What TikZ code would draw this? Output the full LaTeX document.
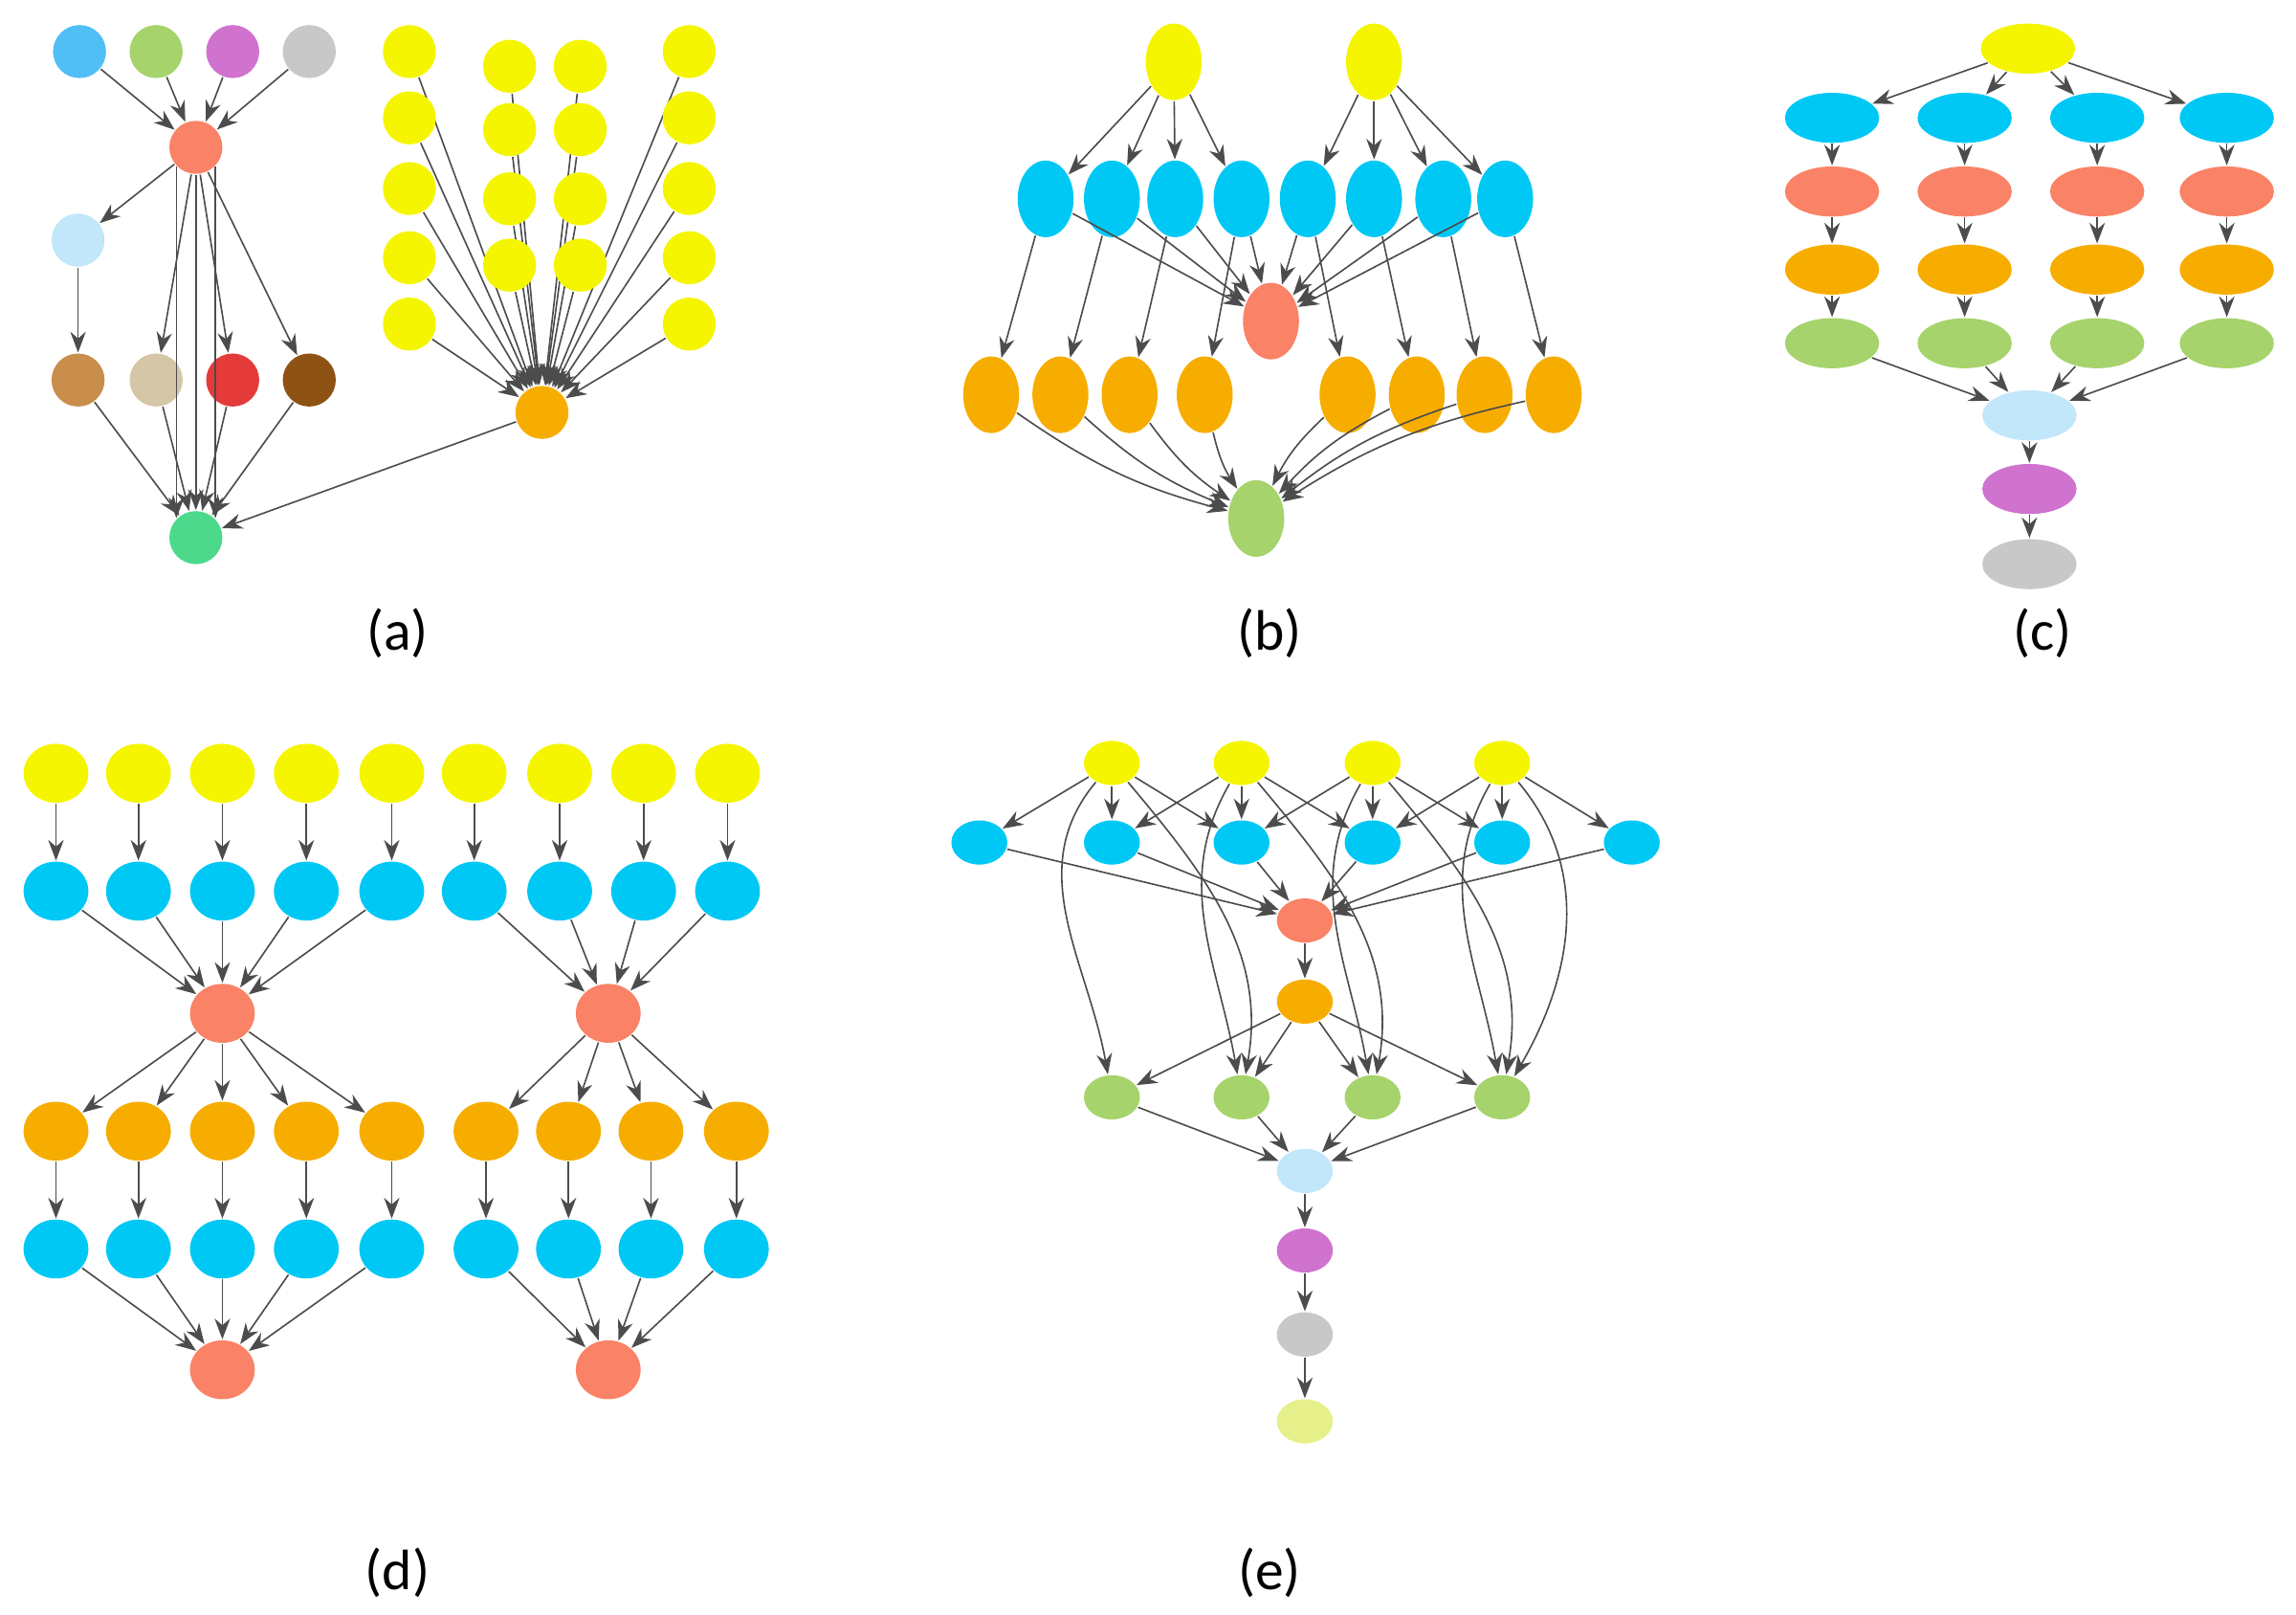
\documentclass[tikz,border=0pt]{standalone}
\usepackage{fontspec}
\setmainfont{Carlito}
\usetikzlibrary{arrows.meta}
\definecolor{cy}{HTML}{F5F500}
\definecolor{cb}{HTML}{00C8F5}
\definecolor{cs}{HTML}{FA8266}
\definecolor{co}{HTML}{F7AD00}
\definecolor{cg}{HTML}{A6D36B}
\definecolor{cl}{HTML}{C2E6FA}
\definecolor{cp}{HTML}{CF73CF}
\definecolor{cgr}{HTML}{C8C8C8}
\definecolor{cb2}{HTML}{4FBFF5}
\definecolor{ctan}{HTML}{C98E4B}
\definecolor{cbe}{HTML}{D6C6A8}
\definecolor{cred}{HTML}{E53A3A}
\definecolor{cbr}{HTML}{8E5214}
\definecolor{cmint}{HTML}{4CD98C}
\definecolor{cly}{HTML}{E6F08A}
\tikzset{
 nd/.style={ellipse,inner sep=0pt,minimum width=#1},
 e/.style={draw=black!70,line width=0.3pt,-{Stealth[length=4pt,width=3pt]}},
 lab/.style={font=\fontsize{11}{13}\selectfont}
}
\usetikzlibrary{shapes.geometric}
\begin{document}
\begin{tikzpicture}[x=0.01cm,y=-0.01cm]
\useasboundingbox (0,0) rectangle (1559,1096);
\tikzset{a/.style={circle,fill=#1,minimum size=36*0.01cm,inner sep=0pt}}
% ---------- (a)
\node[a=cb2] (a1) at (54,35) {};
\node[a=cg] (a2) at (106,35) {};
\node[a=cp] (a3) at (158,35) {};
\node[a=cgr] (a4) at (210,35) {};
\node[a=cs] (as) at (133,100) {};
\node[a=cl] (al) at (53,163) {};
\node[a=ctan] (b1) at (53,258) {};
\node[a=cbe] (b2) at (106,258) {};
\node[a=cred] (b3) at (158,258) {};
\node[a=cbr] (b4) at (210,258) {};
\node[a=cmint] (ag) at (133,365) {};
\node[a=co] (ao) at (368,280) {};
\foreach \i in {1,...,4} \draw[e] (a\i) -- (as);
\draw[e] (as) -- (al); \draw[e] (al) -- (b1);
\foreach \i in {2,3,4} \draw[e] (as) -- (b\i);
\foreach \i in {1,...,4} \draw[e] (b\i) -- (ag);
\draw[e] (as) -- (ag); \draw[e] (as.south west) -- (ag.north west);\draw[e] (as.south east) -- (ag.north east);
\draw[e] (ao) -- (ag);
\foreach \x/\ys/\n in {278/{35,80,128,175,220}/p,468/{35,80,128,175,220}/q,346/{45,88,135,180}/r,394/{45,88,135,180}/s}{
 \foreach \y [count=\k] in \ys {\node[a=cy] (y\n\k) at (\x,\y) {}; \draw[e] (y\n\k) -- (ao);}}
% ---------- (b)
\tikzset{bv/.style={ellipse,fill=#1,minimum width=38*0.01cm,minimum height=52*0.01cm,inner sep=0pt}}
\node[bv=cy] (by1) at (797,42) {};
\node[bv=cy] (by2) at (933,42) {};
\foreach \x [count=\k] in {710,755,798,843,888,933,980,1022} \node[bv=cb] (bb\k) at (\x,135) {};
\node[bv=cs] (bs) at (863,218) {};
\foreach \x [count=\k] in {673,720,767,818,915,962,1008,1055} \node[bv=co] (bo\k) at (\x,268) {};
\node[bv=cg] (bg) at (853,352) {};
\foreach \k in {1,...,4} \draw[e] (by1) -- (bb\k);
\foreach \k in {5,...,8} \draw[e] (by2) -- (bb\k);
\foreach \k in {1,...,8} {\draw[e] (bb\k) -- (bs); \draw[e] (bb\k) -- (bo\k); \draw[e] (bo\k) to[bend right=10] (bg);}
% ---------- (c)
\tikzset{ch/.style={ellipse,fill=#1,minimum width=64*0.01cm,minimum height=34*0.01cm,inner sep=0pt}}
\node[ch=cy] (cy0) at (1377,33) {};
\foreach \x [count=\k] in {1244,1334,1424,1512}{
 \node[ch=cb] (c1\k) at (\x,80) {};
 \node[ch=cs] (c2\k) at (\x,130) {};
 \node[ch=co] (c3\k) at (\x,183) {};
 \node[ch=cg] (c4\k) at (\x,233) {};
 \draw[e] (cy0) -- (c1\k); \draw[e] (c1\k) -- (c2\k); \draw[e] (c2\k) -- (c3\k); \draw[e] (c3\k) -- (c4\k);}
\node[ch=cl] (cl0) at (1378,282) {};
\node[ch=cp] (cp0) at (1378,332) {};
\node[ch=cgr] (cg0) at (1378,383) {};
\foreach \k in {1,...,4} \draw[e] (c4\k) -- (cl0);
\draw[e] (cl0) -- (cp0); \draw[e] (cp0) -- (cg0);
% ---------- (d)
\tikzset{dc/.style={ellipse,fill=#1,minimum width=44*0.01cm,minimum height=40*0.01cm,inner sep=0pt}}
\node[dc=cs] (ds1) at (151,688) {};
\node[dc=cs] (ds2) at (413,688) {};
\node[dc=cs] (dt1) at (151,930) {};
\node[dc=cs] (dt2) at (413,930) {};
\foreach \x [count=\k] in {38,94,151,208,266,322,380,437,494}{
 \pgfmathtruncatemacro\g{\k<6?1:2}
 \node[dc=cy] (dy\k) at (\x,525) {};
 \node[dc=cb] (db\k) at (\x,605) {};
 \draw[e] (dy\k) -- (db\k); \draw[e] (db\k) -- (ds\g);}
\foreach \x [count=\k] in {38,94,151,208,266,330,386,442,500}{
 \pgfmathtruncatemacro\g{\k<6?1:2}
 \node[dc=co] (do\k) at (\x,768) {};
 \node[dc=cb] (dc\k) at (\x,848) {};
 \draw[e] (ds\g) -- (do\k); \draw[e] (do\k) -- (dc\k); \draw[e] (dc\k) -- (dt\g);}
% ---------- (e)
\tikzset{ec/.style={ellipse,fill=#1,minimum width=38*0.01cm,minimum height=30*0.01cm,inner sep=0pt}}
\foreach \x [count=\k] in {755,843,932,1020} {\node[ec=cy] (ey\k) at (\x,518) {}; \node[ec=cg] (eg\k) at (\x,745) {};}
\foreach \x [count=\k] in {665,755,843,932,1020,1108} \node[ec=cb] (eb\k) at (\x,572) {};
\node[ec=cs] (es) at (886,625) {};
\node[ec=co] (eo) at (886,680) {};
\node[ec=cl] (el) at (886,795) {};
\node[ec=cp] (ep) at (886,849) {};
\node[ec=cgr] (egr) at (886,906) {};
\node[ec=cly] (ely) at (886,965) {};
\foreach \a/\b in {1/1,1/2,1/3,2/2,2/3,2/4,3/4,3/5,3/3,4/5,4/6,4/4}\draw[e] (ey\a) -- (eb\b);
\foreach \k in {1,...,6} \draw[e] (eb\k) -- (es);
\draw[e] (es) -- (eo);
\foreach \k in {1,...,4} {\draw[e] (eo) -- (eg\k); \draw[e] (eg\k) -- (el);}
\draw[e] (ey1) to[out=230,in=100] (eg1);
\draw[e] (ey2) to[out=240,in=100] (eg2);
\draw[e] (ey1) to[out=-50,in=80] (eg2);
\draw[e] (ey3) to[out=240,in=100] (eg3);
\draw[e] (ey2) to[out=-50,in=80] (eg3);
\draw[e] (ey4) to[out=240,in=100] (eg4);
\draw[e] (ey3) to[out=-50,in=80] (eg4);
\draw[e] (ey4) to[out=-50,in=60] (eg4);
\draw[e] (el) -- (ep); \draw[e] (ep) -- (egr); \draw[e] (egr) -- (ely);
% labels
\node[lab] (la) at (270,430) {(a)};
\node[lab] (lb) at (862,430) {(b)};
\node[lab] (lc) at (1387,430) {(c)};
\node[lab] (ld) at (270,1068) {(d)};
\node[lab] (le) at (862,1068) {(e)};
\end{tikzpicture}
\end{document}
